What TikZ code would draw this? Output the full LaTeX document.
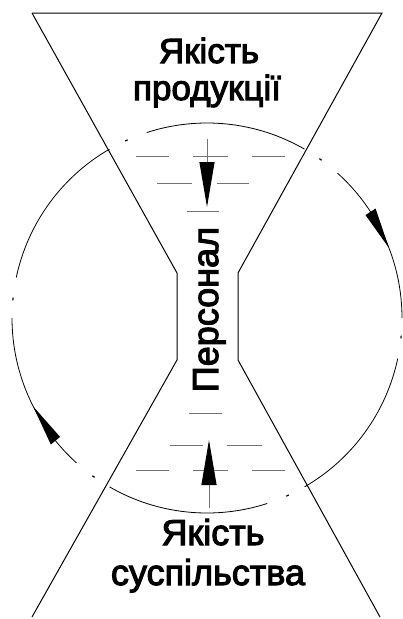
\documentclass[tikz,border=0pt]{standalone}
\usepackage{fontspec}
\setmainfont[FakeBold=3]{Liberation Sans}
\usetikzlibrary{arrows.meta}
\begin{document}
\begin{tikzpicture}[x=1pt,y=-1pt,
  outline/.style={line width=1pt, line join=miter},
  ring/.style={line width=0.8pt},
  ringdot/.style={line width=1.2pt},
  hatch/.style={line width=1pt, draw=black!55},
  txt/.style={inner sep=0pt, anchor=base, font=\fontsize{35}{40}\selectfont},
  txtb/.style={inner sep=0pt, anchor=base, font=\fontsize{36}{41}\selectfont},
  shaft/.style={line width=1pt, draw=black!55, -{Triangle[length=45pt,width=15pt,color=black]}},
  ringtip/.style={fill=black}
]
\useasboundingbox (0,0) rectangle (403,619);
% hourglass outline
\draw[outline] (32,13) -- (382,13) -- (238,273) -- (238,360) -- (380,617);
\draw[outline] (32,13) -- (177,273) -- (177,360) -- (32,617);
% dash-dot circle
\coordinate (c) at (207,318);
\foreach \a in {0,60,...,300}
  \draw[ring] ([shift={(-\a:195)}]c) arc[start angle=-\a, end angle=-\a-48, radius=195];
\foreach \a in {54,114,...,354}
  \draw[ringdot] ([shift={(-\a:195)}]c) arc[start angle=-\a, end angle=-\a-0.8, radius=195];
% arrowheads on the circle (clockwise on screen)
\fill[ringtip] ([shift={(-21:195)}]c) -- ([shift={(-33:189)}]c) -- ([shift={(-33:201)}]c) -- cycle;
\fill[ringtip] ([shift={(-207:195)}]c) -- ([shift={(-219:189)}]c) -- ([shift={(-219:201)}]c) -- cycle;
% hatching
\foreach \y/\xa/\xb in {156/136/169,156/193/228,156/252/285,183/157/192,183/217/249,211/187/219,
                        413/189/222,445/170/203,445/227/262,470/136/169,470/193/228,470/252/285}
  \draw[hatch] (\xa,\y) -- (\xb,\y);
% central arrows
\coordinate (tA) at (207,139);
\coordinate (tB) at (207,207);
\draw[shaft] (tA) -- (tB);
\coordinate (bA) at (209,508);
\coordinate (bB) at (209,440);
\draw[shaft] (bA) -- (bB);
% texts
\node[txt] (q1) at (209,63) {Якість};
\node[txt] (q2) at (207,100) {продукції};
\node[txtb] (s1) at (213,545) {Якість};
\node[txtb] (s2) at (208,585) {суспільства};
\node[txtb, rotate=90] (p) at (218,309.5) {Персонал};
\end{tikzpicture}
\end{document}
